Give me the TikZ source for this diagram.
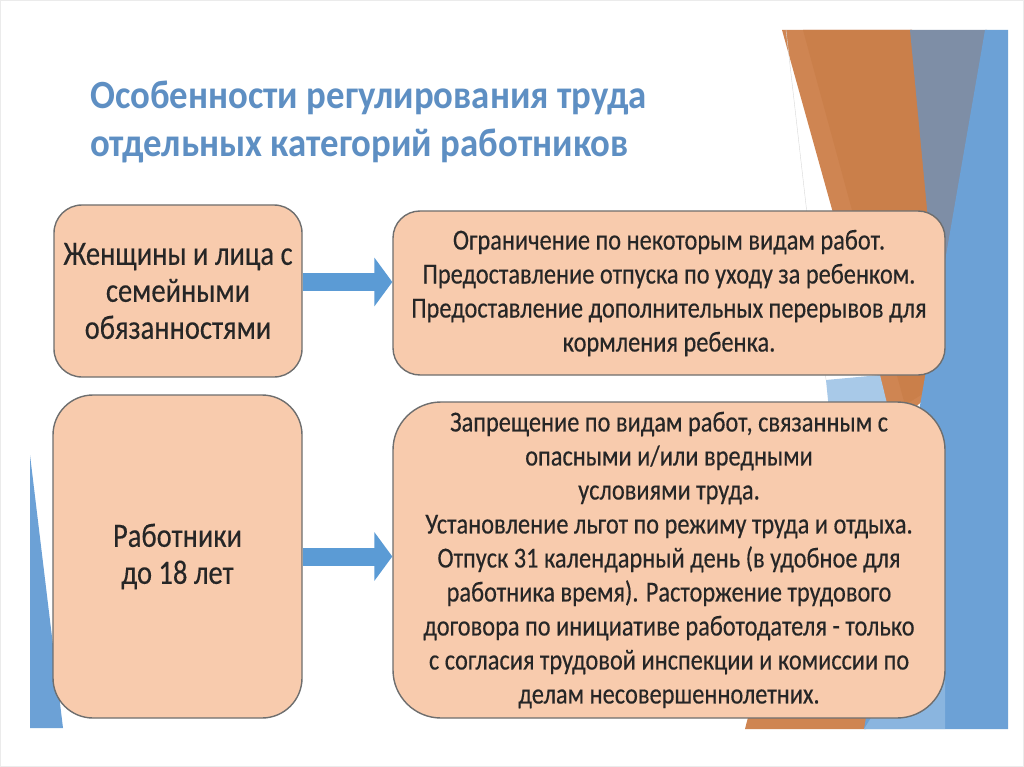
\documentclass[tikz,border=0pt]{standalone}
\usepackage{fontspec}
\setmainfont[FakeStretch=0.84,FakeBold=0.3]{Carlito}
\newfontfamily\titlefont[FakeStretch=0.92]{Carlito}
\usetikzlibrary{arrows.meta}

\definecolor{titleblue}{HTML}{5E8FC3}
\definecolor{peach}{HTML}{F8CBAD}
\definecolor{boxgrey}{HTML}{6E6E6E}
\definecolor{textdark}{HTML}{262626}
\definecolor{arrowblue}{HTML}{5B9BD5}
\definecolor{bandorange}{HTML}{CF8552}
\definecolor{bandorangedk}{HTML}{CA7F4A}
\definecolor{bandgrey}{HTML}{7E8EA6}
\definecolor{bandblue}{HTML}{6CA1D6}
\definecolor{bandlight}{HTML}{A8C9E8}

\begin{document}
\begin{tikzpicture}
[
	x=1pt, y=-1pt,
	catbox/.style={draw=boxgrey,line width=1.4pt,fill=peach,text=textdark,align=center,inner sep=0pt,font=\fontsize{34}{37}\selectfont},
	rulebox/.style={catbox,font=\fontsize{29}{34}\selectfont},
	titletext/.style={text=titleblue,inner sep=0pt,anchor=base west,font=\titlefont\bfseries\fontsize{40}{48}\selectfont},
	blockarrow/.style={draw=arrowblue,line width=18pt,-{Triangle[length=18pt,width=48pt]}}
]

	% frame and page
	\useasboundingbox (0,0) rectangle (1024,767);
	\fill[white] (0,0) rectangle (1024,767);
	\draw[black!8] (0.5,0.5) rectangle (1023.5,766.5);

	% background bands
	\fill[bandblue] (30,455) -- (63,728) -- (30,728) -- cycle;
	\fill[bandorange] (782,30) -- (912,30) -- (945,380) -- (893,428) -- cycle;
	\fill[bandorangedk] (803,30) -- (912,30) -- (945,380) -- (905,405) -- cycle;
	\fill[bandorange] (745,729) -- (866,729) -- (880,690) -- (755,690) -- cycle;
	\fill[bandgrey] (910,30) -- (987,30) -- (962,370) -- (948,430) -- cycle;
	\fill[bandblue] (985,30) -- (1008,30) -- (1008,729) -- (864,729) -- cycle;
	\fill[bandlight] (826,380) -- (880,375) -- (893,428) -- (835,470) -- cycle;
	\fill[bandlight,opacity=0.5] (864,729) -- (945,600) -- (945,729) -- cycle;
	\draw[black!15] (786,30) -- (826,380);

	% title
	\node[titletext] (title) at (90,109) {Особенности регулирования труда};
	\node[titletext] (subtitle) at (90,157) {отдельных категорий работников};

	% boxes
	\node[catbox,minimum width=248pt,minimum height=172pt,rounded corners=28pt] (women) at (178,291)
		{Женщины и лица с\\семейными\\обязанностями};
	\node[rulebox,minimum width=552pt,minimum height=164pt,rounded corners=27pt] (limits) at (669,293)
		{Ограничение по некоторым видам работ.\\Предоставление отпуска по уходу за ребенком.\\Предоставление дополнительных перерывов для\\кормления ребенка.};
	\node[catbox,minimum width=249pt,minimum height=323pt,rounded corners=40pt] (minors) at (177.5,556.5)
		{Работники\\до 18 лет};
	\node[rulebox,minimum width=552pt,minimum height=316pt,rounded corners=48pt] (rules) at (669,560)
		{Запрещение по видам работ, связанным с\\опасными и/или вредными\\условиями труда.\\Установление льгот по режиму труда и отдыха.\\Отпуск 31 календарный день (в удобное для\\работника время). Расторжение трудового\\договора по инициативе работодателя - только\\с согласия трудовой инспекции и комиссии по\\делам несовершеннолетних.};

	% arrows
	\draw[blockarrow] ([yshift=9pt]women.east) -- ([yshift=9pt]women.east -| limits.west);
	\draw[blockarrow] (minors.east) -- (minors.east -| rules.west);

\end{tikzpicture}
\end{document}
